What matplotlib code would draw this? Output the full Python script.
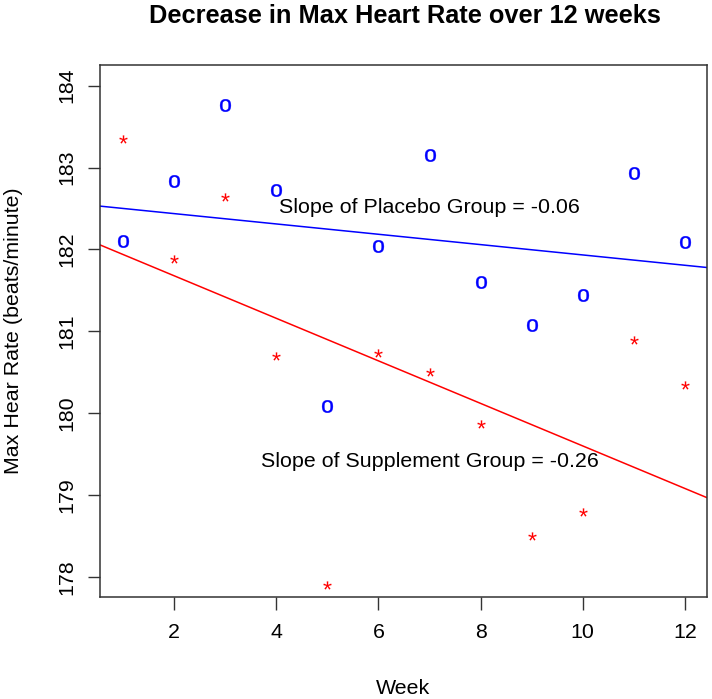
import matplotlib
matplotlib.use("Agg")
import matplotlib.pyplot as plt
import numpy as np

plt.rcParams['font.family'] = ['Liberation Sans', 'DejaVu Sans']

# Max heart rate per week
weeks = [1, 2, 3, 4, 5, 6, 7, 8, 9, 10, 11, 12]
placebo = [182.10, 182.84, 183.76, 182.72, 180.09, 182.04, 183.15, 181.60, 181.08, 181.45, 182.93, 182.09]
supplement = [183.35, 181.89, 182.64, 180.70, 177.91, 180.74, 180.50, 179.87, 178.50, 178.80, 180.89, 180.35]
x_ticks = [2, 4, 6, 8, 10, 12]
y_ticks = [178, 179, 180, 181, 182, 183, 184]

fig = plt.figure(figsize=(7.12, 6.99), dpi=100)
ax = fig.add_axes([0.1404, 0.1459, 0.8525, 0.761])

# points drawn as the letters "o" and "*" like R's pch
ax.plot(weeks, placebo, linestyle='none', marker=r'$\mathregular{o}$', markersize=9,
        color='#0000FF', markeredgewidth=0.3)
ax.plot(weeks, supplement, linestyle='none', marker=r'$\mathregular{*}$', markersize=6,
        color='#FF0000', markeredgewidth=0)

# least squares lines (abline)
m_p, b_p = np.polyfit(weeks, placebo, 1)
m_s, b_s = np.polyfit(weeks, supplement, 1)
ax.axline((0, b_p), slope=m_p, color='#0000FF', lw=1.1)
ax.axline((0, b_s), slope=m_s, color='#FF0000', lw=1.1)

ax.text(7, 182.51, 'Slope of Placebo Group = %.2f' % m_p, ha='center', va='center', fontsize=15.4)
ax.text(7, 179.41, 'Slope of Supplement Group = %.2f' % m_s, ha='center', va='center', fontsize=15.4)

ax.set_xlim(0.55, 12.43)
ax.set_ylim(177.76, 184.25)
ax.set_xticks(x_ticks)
ax.set_yticks(y_ticks)
ax.tick_params(axis='both', direction='out', length=9, width=1, labelsize=15.4, color='#333333')
ax.tick_params(axis='x', pad=10)
ax.tick_params(axis='y', pad=8, labelrotation=90)
for lab in ax.get_yticklabels():
    lab.set_va('center')
for sp in ax.spines.values():
    sp.set_linewidth(1.1)
    sp.set_color('#333333')

ax.set_xlabel('Week', fontsize=15.4)
ax.set_ylabel('Max Hear Rate (beats/minute)', fontsize=15.4)
ax.xaxis.set_label_coords(0.5, -0.172)
ax.yaxis.set_label_coords(-0.1417, 0.5)
ax.xaxis.label.set_va('center')
ax.yaxis.label.set_va('center')

fig.text(0.5688, 1 - 16 / 699, 'Decrease in Max Heart Rate over 12 weeks',
         ha='center', va='center', fontsize=18.3, fontweight='bold')

plt.savefig('out.png', dpi=100)
